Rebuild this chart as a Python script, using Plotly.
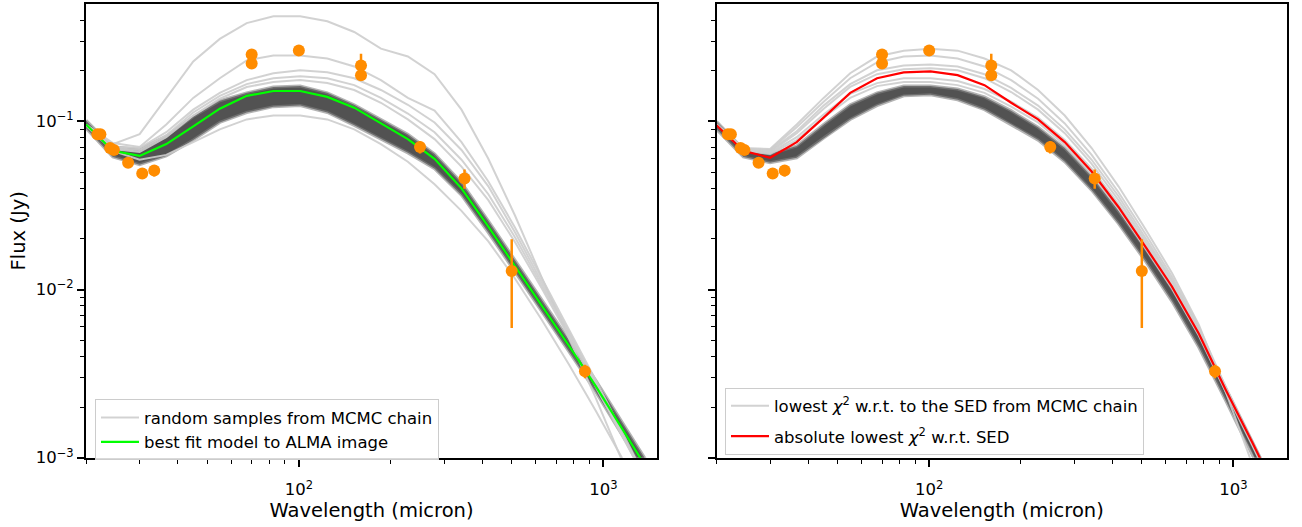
import numpy as np
import plotly.graph_objects as go

# ---------------- data ----------------
# model wavelength grid (micron)
model_wl = [20, 24.5, 30, 36.7, 45, 55, 67.4, 82.5, 101, 124, 152, 186, 228, 279,
            342, 419, 513, 628, 770, 943, 1155, 1415, 1733]

# left panel: log10 flux (Jy) of model curves
green_log = [-1.018, -1.175, -1.205, -1.135, -1.029, -0.924, -0.848, -0.819, -0.819, -0.854, -0.918,
             -1.012, -1.105, -1.222, -1.398, -1.626, -1.860, -2.099, -2.333, -2.573, -2.830, -3.088, -3.345]
band_left_hi_log = [-0.994, -1.152, -1.164, -1.088, -0.971, -0.877, -0.830, -0.795, -0.790, -0.830, -0.901,
                    -0.988, -1.076, -1.193, -1.363, -1.591, -1.825, -2.064, -2.298, -2.538, -2.789, -3.047, -3.298]
band_left_lo_log = [-1.041, -1.211, -1.257, -1.205, -1.111, -1.006, -0.947, -0.912, -0.906, -0.947, -1.023,
                    -1.105, -1.187, -1.281, -1.439, -1.661, -1.895, -2.134, -2.368, -2.608, -2.871, -3.128, -3.392]
sample_left_logs = [
    [-1.023, -1.135, -1.076, -0.860, -0.643, -0.509, -0.415, -0.374, -0.374, -0.404, -0.468,
     -0.567, -0.614, -0.719, -0.930, -1.222, -1.561, -1.930, -2.292, -2.643, -3.023, -3.433, -3.871],
    [-1.018, -1.129, -1.152, -1.018, -0.860, -0.743, -0.637, -0.608, -0.608, -0.626, -0.673,
     -0.754, -0.860, -0.936, -1.123, -1.357, -1.632, -1.930, -2.234, -2.538, -2.848, -3.170, -3.491],
    [-1.023, -1.152, -1.158, -1.064, -0.930, -0.830, -0.754, -0.713, -0.696, -0.708, -0.743,
     -0.813, -0.901, -1.006, -1.170, -1.386, -1.661, -1.953, -2.252, -2.556, -2.860, -3.170, -3.491],
    [-1.023, -1.158, -1.170, -1.082, -0.947, -0.848, -0.778, -0.743, -0.731, -0.743, -0.784,
     -0.860, -0.953, -1.064, -1.228, -1.433, -1.690, -1.971, -2.263, -2.561, -2.860, -3.164, -3.474],
    [-1.023, -1.164, -1.181, -1.094, -0.965, -0.865, -0.795, -0.766, -0.754, -0.772, -0.813,
     -0.889, -0.988, -1.105, -1.269, -1.468, -1.719, -1.994, -2.281, -2.573, -2.866, -3.164, -3.468],
    [-1.023, -1.175, -1.228, -1.199, -1.123, -1.047, -0.988, -0.965, -0.965, -0.988, -1.047,
     -1.135, -1.240, -1.374, -1.532, -1.713, -1.936, -2.181, -2.445, -2.719, -3.006, -3.304, -3.608],
]

# right panel
red_log = [-1.023, -1.175, -1.216, -1.123, -0.977, -0.830, -0.743, -0.708, -0.702, -0.725, -0.784,
           -0.889, -0.988, -1.123, -1.298, -1.509, -1.743, -1.982, -2.263, -2.596, -2.912, -3.234, -3.561]
band_right_hi_log = [-1.000, -1.164, -1.193, -1.146, -1.018, -0.901, -0.830, -0.790, -0.790, -0.807, -0.854,
                     -0.936, -1.035, -1.158, -1.327, -1.532, -1.754, -1.994, -2.263, -2.579, -2.895, -3.216, -3.550]
band_right_lo_log = [-1.047, -1.211, -1.246, -1.216, -1.099, -0.988, -0.906, -0.848, -0.842, -0.871, -0.930,
                     -1.018, -1.111, -1.240, -1.409, -1.608, -1.830, -2.070, -2.345, -2.661, -2.977, -3.298, -3.637]
sample_right_logs = [
    [-1.018, -1.158, -1.164, -1.018, -0.860, -0.713, -0.614, -0.579, -0.567, -0.579, -0.626,
     -0.696, -0.813, -0.965, -1.158, -1.386, -1.638, -1.901, -2.211, -2.608, -3.041, -3.497, -3.971],
    [-1.018, -1.164, -1.170, -1.035, -0.883, -0.743, -0.649, -0.614, -0.608, -0.626, -0.673,
     -0.754, -0.865, -1.012, -1.199, -1.421, -1.667, -1.924, -2.222, -2.579, -2.918, -3.269, -3.632],
    [-1.018, -1.164, -1.175, -1.059, -0.906, -0.778, -0.696, -0.667, -0.661, -0.673, -0.719,
     -0.801, -0.906, -1.047, -1.228, -1.445, -1.690, -1.942, -2.234, -2.585, -2.918, -3.252, -3.597],
    [-1.018, -1.170, -1.181, -1.070, -0.924, -0.795, -0.719, -0.690, -0.684, -0.696, -0.743,
     -0.825, -0.930, -1.070, -1.252, -1.468, -1.708, -1.953, -2.246, -2.591, -2.912, -3.240, -3.573],
    [-1.018, -1.170, -1.187, -1.094, -0.959, -0.836, -0.772, -0.743, -0.743, -0.760, -0.807,
     -0.883, -0.977, -1.111, -1.281, -1.491, -1.725, -1.971, -2.257, -2.596, -2.918, -3.240, -3.573],
    [-1.018, -1.175, -1.193, -1.111, -0.977, -0.860, -0.790, -0.766, -0.766, -0.784, -0.830,
     -0.912, -1.006, -1.140, -1.310, -1.521, -1.754, -1.994, -2.275, -2.608, -2.930, -3.257, -3.591],
]

# observed SED points
obs_wl = [21.8, 22.3, 24.0, 24.7, 27.5, 30.6, 33.5, 70, 70, 100, 160, 160, 250, 350, 500, 870]
obs_flux = [0.084, 0.084, 0.0696, 0.0676, 0.0568, 0.049, 0.0511, 0.25, 0.221, 0.264,
            0.215, 0.188, 0.0705, 0.0458, 0.0129, 0.00327]
obs_err = [0.002, 0.002, 0.002, 0.002, 0.002, 0.002, 0.004, 0.01, 0.01, 0.01,
           0.038, 0.01, 0.006, 0.006, 0.007, 0.0003]

x_tickvals = [100, 1000]
x_ticktext = ["10<sup>2</sup>", "10<sup>3</sup>"]
x_minor = [20, 30, 40, 50, 60, 70, 80, 90, 200, 300, 400, 500, 600, 700, 800, 900]
y_tickvals = [0.001, 0.01, 0.1]
y_ticktext = ["10<sup>\u22123</sup>", "10<sup>\u22122</sup>", "10<sup>\u22121</sup>"]
y_minor = [0.002, 0.003, 0.004, 0.005, 0.006, 0.007, 0.008, 0.009,
           0.02, 0.03, 0.04, 0.05, 0.06, 0.07, 0.08, 0.09, 0.2, 0.3, 0.4]

# ---------------- figure ----------------
FONT = "DejaVu Sans"
W, H = 1302, 527
TICK_SIZE = 16.5
LABEL_SIZE = 19.5
LEGEND_SIZE = 16.5
wl = np.array(model_wl, dtype=float)


def flux(arr):
    return 10 ** np.array(arr, dtype=float)


fig = go.Figure()
LIGHT = "rgba(205,205,205,0.9)"


def add_panel(xa, ya, band_hi, band_lo, samples, best, best_color, legend, grey_name, best_name):
    # dark band of many chain samples
    fig.add_trace(go.Scatter(
        x=np.concatenate([wl, wl[::-1]]),
        y=np.concatenate([flux(band_hi), flux(band_lo)[::-1]]),
        fill="toself", fillcolor="rgba(58,58,58,0.88)", line=dict(width=0),
        mode="lines", hoverinfo="skip", showlegend=False, xaxis=xa, yaxis=ya))
    for b in (band_hi, band_lo):
        fig.add_trace(go.Scatter(x=wl, y=flux(b), mode="lines",
                                 line=dict(color="rgba(130,130,130,0.6)", width=3),
                                 showlegend=False, hoverinfo="skip", xaxis=xa, yaxis=ya))
    for i, s in enumerate(samples):
        fig.add_trace(go.Scatter(x=wl, y=flux(s), mode="lines",
                                 line=dict(color=LIGHT, width=2),
                                 name=grey_name, legend=legend, legendgroup=legend + "grey",
                                 showlegend=(i == 0), xaxis=xa, yaxis=ya))
    fig.add_trace(go.Scatter(x=wl, y=flux(best), mode="lines",
                             line=dict(color=best_color, width=2.2),
                             name=best_name, legend=legend, legendgroup=legend + "best",
                             xaxis=xa, yaxis=ya))
    fig.add_trace(go.Scatter(x=obs_wl, y=obs_flux, mode="markers",
                             marker=dict(color="darkorange", size=12),
                             error_y=dict(type="data", array=obs_err, color="darkorange",
                                          thickness=2.5, width=0),
                             showlegend=False, xaxis=xa, yaxis=ya))


add_panel("x", "y", band_left_hi_log, band_left_lo_log, sample_left_logs, green_log, "#00ff00",
          "legend", "random samples from MCMC chain", "best fit model to ALMA image")
add_panel("x2", "y2", band_right_hi_log, band_right_lo_log, sample_right_logs, red_log, "#ff0000",
          "legend2", "lowest <i>\u03c7</i><sup>2</sup> w.r.t. to the SED from MCMC chain",
          "absolute lowest <i>\u03c7</i><sup>2</sup> w.r.t. SED")

xrange_ = [np.log10(20), np.log10(1500)]
yrange_ = [-3, np.log10(0.5)]

common_x = dict(type="log", range=xrange_, showline=True, mirror=True, linecolor="black",
                linewidth=2, ticks="outside", ticklen=7, tickwidth=1.8, tickcolor="black",
                tickmode="array", tickvals=x_tickvals, ticktext=x_ticktext, showgrid=False,
                zeroline=False, tickfont=dict(family=FONT, size=TICK_SIZE, color="black"),
                ticklabelstandoff=9,
                minor=dict(tickmode="array", tickvals=x_minor, ticks="outside", ticklen=4,
                           tickwidth=1.3, tickcolor="black", showgrid=False),
                title=dict(text="Wavelength (micron)",
                           font=dict(family=FONT, size=LABEL_SIZE, color="black"), standoff=4))
common_y = dict(type="log", range=yrange_, showline=True, mirror=True, linecolor="black",
                linewidth=2, ticks="outside", ticklen=7, tickwidth=1.8, tickcolor="black",
                tickmode="array", tickvals=y_tickvals, ticktext=y_ticktext, showgrid=False,
                zeroline=False, tickfont=dict(family=FONT, size=TICK_SIZE, color="black"),
                ticklabelstandoff=0,
                minor=dict(tickmode="array", tickvals=y_minor, ticks="outside", ticklen=4,
                           tickwidth=1.3, tickcolor="black", showgrid=False))

legend_common = dict(xanchor="left", yanchor="top", bgcolor="rgba(255,255,255,0.85)",
                     bordercolor="#cccccc", borderwidth=1, itemwidth=38,
                     font=dict(family=FONT, size=LEGEND_SIZE, color="black"))

fig.update_layout(
    width=W, height=H, margin=dict(l=0, r=0, t=0, b=0),
    paper_bgcolor="white", plot_bgcolor="white",
    font=dict(family=FONT, size=TICK_SIZE, color="black"),
    xaxis=dict(common_x, domain=[86 / W, 657 / W], anchor="y"),
    yaxis=dict(common_y, domain=[1 - 466.5 / H, 1 - 4 / H], anchor="x",
               title=dict(text="Flux (Jy)", font=dict(family=FONT, size=LABEL_SIZE, color="black"),
                          standoff=5)),
    xaxis2=dict(common_x, domain=[716.5 / W, 1287 / W], anchor="y2"),
    yaxis2=dict(common_y, domain=[1 - 466.5 / H, 1 - 4 / H], anchor="x2", showticklabels=False),
    legend=dict(legend_common, x=95 / W, y=1 - 407 / H, tracegroupgap=0),
    legend2=dict(legend_common, x=725 / W, y=1 - 395 / H, tracegroupgap=6),
)

fig.write_html("out.html")
